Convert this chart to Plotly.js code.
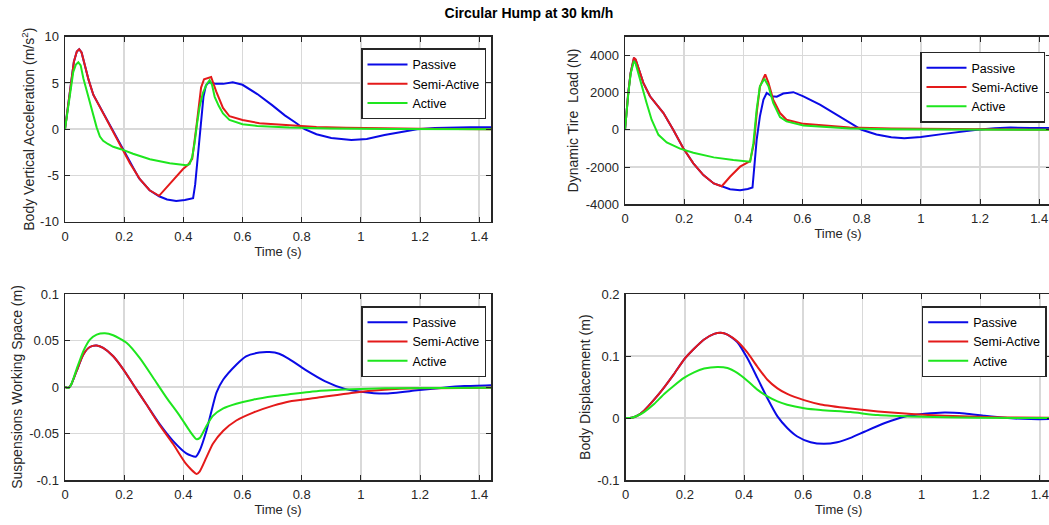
<!DOCTYPE html>
<html>
<head>
<meta charset="utf-8">
<script src="https://cdn.plot.ly/plotly-3.0.1.min.js"></script>
<style>
html,body{margin:0;padding:0;overflow:hidden;background:#fff;}
#chart{width:1100px;height:525px;}
</style>
</head>
<body>
<div id="chart"></div>
<script>
// ---------- Data ----------
const seriesNames = ['Passive', 'Semi-Active', 'Active'];
const timeTicks = [0, 0.2, 0.4, 0.6, 0.8, 1, 1.2, 1.4];
const timeTickLabels = ['0', '0.2', '0.4', '0.6', '0.8', '1', '1.2', '1.4'];

// Body vertical acceleration (m/s^2)
const accPassiveT = [0, 0.01, 0.02, 0.03, 0.04, 0.048, 0.056, 0.067, 0.08, 0.096, 0.12, 0.14, 0.163, 0.19, 0.22, 0.25, 0.286, 0.318, 0.345, 0.376, 0.405, 0.433, 0.44, 0.45, 0.46, 0.468, 0.476, 0.485, 0.492, 0.51, 0.535, 0.567, 0.6, 0.65, 0.7, 0.743, 0.78, 0.81, 0.85, 0.9, 0.968, 1.02, 1.08, 1.13, 1.19, 1.25, 1.306, 1.37, 1.44];
const accPassiveY = [0, 2.4, 5.0, 7.3, 8.4, 8.65, 8.3, 6.8, 5.3, 3.7, 2.3, 1.0, -0.25, -1.95, -3.7, -5.3, -6.6, -7.25, -7.6, -7.75, -7.65, -7.45, -6.0, -2.5, 1.0, 3.5, 4.7, 5.05, 5.05, 4.9, 4.9, 5.07, 4.8, 3.8, 2.6, 1.5, 0.7, 0.0, -0.55, -0.95, -1.17, -1.05, -0.63, -0.35, 0.0, 0.12, 0.2, 0.22, 0.2];
const accSemiT = [0, 0.01, 0.02, 0.03, 0.04, 0.048, 0.056, 0.067, 0.08, 0.096, 0.12, 0.14, 0.163, 0.19, 0.22, 0.253, 0.286, 0.318, 0.36, 0.399, 0.416, 0.43, 0.445, 0.46, 0.47, 0.494, 0.511, 0.534, 0.556, 0.6, 0.657, 0.758, 0.85, 0.95, 1.05, 1.2, 1.44];
const accSemiY = [0, 2.4, 5.0, 7.3, 8.4, 8.65, 8.3, 6.8, 5.3, 3.7, 2.3, 1.0, -0.25, -1.95, -3.7, -5.4, -6.6, -7.2, -5.7, -4.3, -3.85, -3.2, 0.5, 4.5, 5.4, 5.65, 4.1, 2.3, 1.4, 1.0, 0.65, 0.45, 0.25, 0.15, 0.1, 0.05, 0.0];
const accActiveT = [0, 0.017, 0.028, 0.037, 0.045, 0.053, 0.062, 0.073, 0.084, 0.096, 0.107, 0.118, 0.129, 0.145, 0.163, 0.189, 0.23, 0.287, 0.354, 0.41, 0.421, 0.43, 0.438, 0.446, 0.455, 0.466, 0.478, 0.489, 0.497, 0.506, 0.52, 0.534, 0.556, 0.6, 0.65, 0.758, 0.9, 1.1, 1.44];
const accActiveY = [0, 3.9, 6.2, 7.0, 7.23, 6.9, 5.5, 4.2, 2.8, 1.5, 0.2, -0.8, -1.25, -1.6, -1.9, -2.16, -2.66, -3.24, -3.67, -3.9, -3.78, -3.0, -1.5, 0.5, 2.4, 3.9, 4.8, 5.3, 4.8, 3.5, 2.5, 1.7, 1.0, 0.54, 0.35, 0.18, 0.08, 0.03, 0.0];
const accTicks = [-10, -5, 0, 5, 10];
const accTickLabels = ['-10', '-5', '0', '5', '10'];

// Dynamic tire load (N)
const tirePassiveT = [0, 0.006, 0.011, 0.019, 0.03, 0.036, 0.045, 0.062, 0.0845, 0.107, 0.13, 0.163, 0.197, 0.231, 0.265, 0.3, 0.327, 0.355, 0.389, 0.415, 0.431, 0.438, 0.445, 0.456, 0.468, 0.479, 0.496, 0.513, 0.535, 0.569, 0.603, 0.659, 0.715, 0.76, 0.8, 0.85, 0.9, 0.944, 1.0, 1.078, 1.13, 1.19, 1.25, 1.303, 1.37, 1.44];
const tirePassiveY = [0, 1260, 1980, 3060, 3820, 3750, 3330, 2520, 1800, 1350, 900, 0, -990, -1800, -2430, -2880, -3030, -3190, -3240, -3180, -3100, -2000, -540, 720, 1620, 1980, 1800, 1780, 1950, 2020, 1800, 1350, 810, 360, 0, -250, -400, -450, -380, -218, -110, 0, 80, 120, 100, 90];
const tireSemiT = [0, 0.006, 0.011, 0.019, 0.03, 0.036, 0.045, 0.062, 0.0845, 0.107, 0.13, 0.163, 0.197, 0.231, 0.265, 0.3, 0.327, 0.355, 0.389, 0.423, 0.436, 0.446, 0.456, 0.466, 0.474, 0.485, 0.501, 0.524, 0.546, 0.603, 0.76, 0.9, 1.1, 1.44];
const tireSemiY = [0, 1260, 1980, 3060, 3870, 3780, 3330, 2520, 1800, 1350, 900, 0, -990, -1800, -2430, -2880, -3030, -2520, -1980, -1680, -700, 1000, 2300, 2700, 2980, 2520, 1620, 900, 540, 320, 130, 70, 30, 0];
const tireActiveT = [0, 0.006, 0.011, 0.019, 0.03, 0.036, 0.05, 0.062, 0.073, 0.09, 0.113, 0.141, 0.186, 0.231, 0.3, 0.366, 0.423, 0.434, 0.445, 0.456, 0.471, 0.485, 0.501, 0.524, 0.546, 0.603, 0.76, 0.9, 1.1, 1.44];
const tireActiveY = [0, 1200, 1900, 3000, 3690, 3550, 2700, 2000, 1440, 540, -270, -680, -1010, -1230, -1480, -1620, -1710, -720, 1080, 2340, 2740, 2340, 1440, 680, 450, 230, 70, 30, 10, 0];
const tireTicks = [-4000, -2000, 0, 2000, 4000];
const tireTickLabels = ['-4000', '-2000', '0', '2000', '4000'];

// Suspension working space (m)
const swsPassiveT = [0, 0.011, 0.02, 0.039, 0.062, 0.084, 0.107, 0.129, 0.163, 0.197, 0.23, 0.275, 0.32, 0.365, 0.41, 0.442, 0.455, 0.478, 0.495, 0.512, 0.535, 0.579, 0.612, 0.657, 0.691, 0.724, 0.758, 0.81, 0.878, 0.946, 1.0, 1.08, 1.19, 1.28, 1.35, 1.44];
const swsPassiveY = [0, -0.001, 0.002, 0.017, 0.035, 0.043, 0.0446, 0.042, 0.033, 0.019, 0.003, -0.0186, -0.04, -0.058, -0.0714, -0.075, -0.0686, -0.047, -0.026, -0.006, 0.008, 0.024, 0.033, 0.037, 0.0375, 0.0357, 0.030, 0.019, 0.0064, -0.002, -0.005, -0.007, -0.0036, -0.0007, 0.001, 0.002];
const swsSemiT = [0, 0.011, 0.02, 0.039, 0.062, 0.084, 0.107, 0.129, 0.163, 0.197, 0.23, 0.275, 0.32, 0.365, 0.41, 0.445, 0.455, 0.478, 0.5, 0.535, 0.579, 0.636, 0.704, 0.758, 0.856, 0.968, 1.08, 1.19, 1.44];
const swsSemiY = [0, -0.001, 0.002, 0.017, 0.035, 0.043, 0.0446, 0.042, 0.033, 0.019, 0.003, -0.0186, -0.041, -0.061, -0.083, -0.0936, -0.091, -0.0757, -0.061, -0.047, -0.036, -0.0275, -0.020, -0.0155, -0.0114, -0.0064, -0.003, -0.0014, -0.0007];
const swsActiveT = [0, 0.011, 0.02, 0.039, 0.062, 0.084, 0.107, 0.135, 0.163, 0.208, 0.253, 0.298, 0.343, 0.388, 0.421, 0.444, 0.455, 0.478, 0.5, 0.535, 0.579, 0.636, 0.704, 0.758, 0.856, 0.968, 1.08, 1.44];
const swsActiveY = [0, -0.001, 0.002, 0.019, 0.0386, 0.051, 0.0564, 0.0579, 0.0557, 0.0475, 0.031, 0.01, -0.0114, -0.031, -0.047, -0.056, -0.055, -0.042, -0.031, -0.023, -0.018, -0.0136, -0.01, -0.0079, -0.0043, -0.0025, -0.0014, -0.0007];
const swsTicks = [-0.1, -0.05, 0, 0.05, 0.1];
const swsTickLabels = ['-0.1', '-0.05', '0', '0.05', '0.1'];

// Body displacement (m)
const dispPassiveT = [0, 0.02, 0.039, 0.062, 0.096, 0.13, 0.163, 0.197, 0.231, 0.265, 0.299, 0.321, 0.344, 0.377, 0.411, 0.445, 0.479, 0.513, 0.546, 0.58, 0.625, 0.67, 0.715, 0.76, 0.809, 0.876, 0.944, 1.01, 1.078, 1.146, 1.213, 1.28, 1.37, 1.44];
const dispPassiveY = [0, 0.0005, 0.0038, 0.012, 0.0297, 0.0497, 0.071, 0.0946, 0.112, 0.127, 0.136, 0.138, 0.135, 0.123, 0.097, 0.065, 0.032, 0.0027, -0.016, -0.0297, -0.039, -0.0416, -0.039, -0.032, -0.0216, -0.008, 0.0027, 0.007, 0.0092, 0.0076, 0.0038, 0.0005, -0.0016, -0.0016];
const dispSemiT = [0, 0.02, 0.039, 0.062, 0.096, 0.13, 0.163, 0.197, 0.231, 0.265, 0.299, 0.321, 0.344, 0.377, 0.411, 0.445, 0.479, 0.513, 0.546, 0.603, 0.659, 0.76, 0.853, 0.966, 1.078, 1.19, 1.3, 1.44];
const dispSemiY = [0, 0.0005, 0.0038, 0.012, 0.0297, 0.0497, 0.071, 0.0946, 0.112, 0.127, 0.136, 0.138, 0.135, 0.124, 0.106, 0.083, 0.062, 0.048, 0.039, 0.029, 0.022, 0.0155, 0.0108, 0.0065, 0.0038, 0.0022, 0.001, 0.0005];
const dispActiveT = [0, 0.02, 0.039, 0.062, 0.096, 0.13, 0.163, 0.197, 0.231, 0.265, 0.31, 0.344, 0.377, 0.411, 0.445, 0.479, 0.513, 0.546, 0.603, 0.659, 0.76, 0.853, 0.966, 1.19, 1.44];
const dispActiveY = [0, 0.0005, 0.0038, 0.0097, 0.0227, 0.039, 0.0524, 0.065, 0.074, 0.08, 0.0827, 0.081, 0.073, 0.0605, 0.046, 0.035, 0.027, 0.0216, 0.016, 0.013, 0.0097, 0.0049, 0.0027, 0.0005, 0];
const dispTicks = [-0.1, 0, 0.1, 0.2];
const dispTickLabels = ['-0.1', '0', '0.1', '0.2'];

// ---------- Styling ----------
const W = 1100, H = 525;
const colors = ['#0a0ae6', '#e41a1a', '#1ee61e'];
const FONT = 'Liberation Sans, Arial, Helvetica, sans-serif';

function tr(x, y, i, k, shape) {
  const suffix = k === 1 ? '' : String(k);
  return {
    x: x, y: y, type: 'scatter', mode: 'lines', name: seriesNames[i],
    line: {color: colors[i], width: 2, shape: shape || 'linear', smoothing: 0.6},
    xaxis: 'x' + suffix, yaxis: 'y' + suffix,
    legend: 'legend' + suffix, showlegend: true, hoverinfo: 'x+y+name'
  };
}

const data = [
  tr(accPassiveT, accPassiveY, 0, 1), tr(accSemiT, accSemiY, 1, 1), tr(accActiveT, accActiveY, 2, 1),
  tr(tirePassiveT, tirePassiveY, 0, 2), tr(tireSemiT, tireSemiY, 1, 2), tr(tireActiveT, tireActiveY, 2, 2),
  tr(swsPassiveT, swsPassiveY, 0, 3, 'spline'), tr(swsSemiT, swsSemiY, 1, 3, 'spline'), tr(swsActiveT, swsActiveY, 2, 3, 'spline'),
  tr(dispPassiveT, dispPassiveY, 0, 4, 'spline'), tr(dispSemiT, dispSemiY, 1, 4, 'spline'), tr(dispActiveT, dispActiveY, 2, 4, 'spline')
];

function px2x(p) { return p / W; }
function px2y(p) { return 1 - p / H; }

function xax(l, r, anchor) {
  return {
    domain: [px2x(l), px2x(r)], anchor: anchor, range: [0, 1.44],
    tickvals: timeTicks, ticktext: timeTickLabels,
    showline: true, linecolor: '#262626', linewidth: 1.5, mirror: 'ticks',
    ticks: 'inside', ticklen: 5, tickcolor: '#262626', tickwidth: 1,
    showgrid: true, gridcolor: '#d9d9d9', gridwidth: 1.5, zeroline: false,
    tickfont: {size: 13, color: '#262626', family: FONT},
    ticklabelstandoff: 2,
    title: {text: 'Time (s)', font: {size: 13, color: '#262626', family: FONT}, standoff: 2}
  };
}
function yax(top, bottom, anchor, range, tv, tt, title, standoff) {
  return {
    domain: [px2y(bottom), px2y(top)], anchor: anchor, range: range,
    tickvals: tv, ticktext: tt,
    showline: true, linecolor: '#262626', linewidth: 1.5, mirror: 'ticks',
    ticks: 'inside', ticklen: 5, tickcolor: '#262626', tickwidth: 1,
    showgrid: true, gridcolor: '#d9d9d9', gridwidth: 1.5, zeroline: false,
    tickfont: {size: 13, color: '#262626', family: FONT},
    ticklabelstandoff: 2,
    title: {text: title, font: {size: 14, color: '#262626', family: FONT}, standoff: standoff}
  };
}
function leg(xp, yp) {
  return {
    x: px2x(xp), y: px2y(yp), xanchor: 'left', yanchor: 'top',
    xref: 'paper', yref: 'paper',
    bgcolor: '#ffffff', bordercolor: '#262626', borderwidth: 1.5,
    font: {size: 12.5, color: '#000000', family: FONT},
    itemwidth: 40, tracegroupgap: 0, traceorder: 'normal'
  };
}

const layout = {
  width: W, height: H,
  margin: {l: 0, r: 0, t: 0, b: 0},
  paper_bgcolor: '#ffffff', plot_bgcolor: '#ffffff',
  font: {family: FONT, size: 13, color: '#262626'},
  title: {
    text: 'Circular Hump at 30 km/h',
    font: {size: 14, color: '#000000', family: FONT, weight: 'bold'},
    x: 529 / W, xanchor: 'center', xref: 'container',
    y: 1 - 13 / H, yanchor: 'middle', yref: 'container'
  },
  xaxis: xax(65, 491, 'y'),
  yaxis: yax(36.7, 221.7, 'x', [-10, 10], accTicks, accTickLabels, 'Body Vertical Acceleration (m/s<sup>2</sup>)', 2),
  xaxis2: xax(625, 1051, 'y2'),
  yaxis2: yax(36.7, 204.3, 'x2', [-4000, 5000], tireTicks, tireTickLabels, 'Dynamic Tire\u00a0 Load (N)', 3.5),
  xaxis3: xax(65, 491, 'y3'),
  yaxis3: yax(294, 480, 'x3', [-0.1, 0.1], swsTicks, swsTickLabels, 'Suspensions Working Space (m)', 3.5),
  xaxis4: xax(625.7, 1051.7, 'y4'),
  yaxis4: yax(294.3, 480, 'x4', [-0.1, 0.2], dispTicks, dispTickLabels, 'Body Displacement (m)', 3.5),
  legend: leg(361, 48.3),
  legend2: leg(920, 51.7),
  legend3: leg(361, 306),
  legend4: leg(921.7, 306),
  showlegend: true
};

Plotly.newPlot('chart', data, layout, {displayModeBar: false, responsive: false, staticPlot: true});
</script>
</body>
</html>
